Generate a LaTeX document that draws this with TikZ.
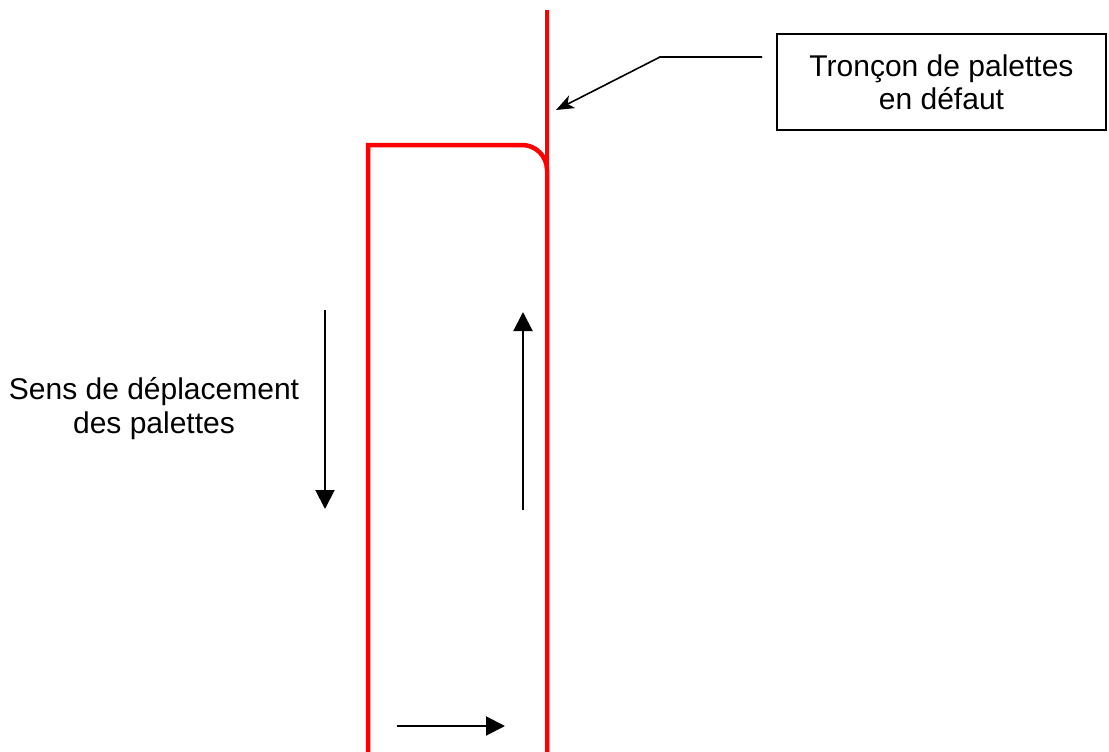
\documentclass[tikz,border=0pt]{standalone}
\usepackage{fontspec}
\setmainfont{Liberation Sans}
\usetikzlibrary{arrows.meta}
\definecolor{lred}{RGB}{255,0,0}
\tikzset{
  track/.style={draw=lred, line width=4.5pt},
  flow/.style={draw=black, line width=2pt, -{Triangle[length=19pt,width=19pt]}},
  leader/.style={draw=black, line width=1.6pt, -{Stealth[length=18pt,width=14pt,inset=5pt]}},
  label/.style={font=\fontsize{30}{34}\selectfont, align=center, inner sep=0pt},
  callout/.style={draw=black, line width=1.6pt, minimum width=329pt, minimum height=96pt, inner sep=0pt, align=center, font=\fontsize{30}{33}\selectfont}
}
\begin{document}
\begin{tikzpicture}[x=1pt,y=-1pt]
\useasboundingbox (0,0) rectangle (1109,752);
% red track
\draw[track] (547,10) -- (547,262);
\draw[track] (368,752) -- (368,145) -- (522,145) arc[start angle=-90,end angle=0,radius=25] -- (547,752);
% callout box
\node[callout] (box) at (941.5,82) {Tronçon de palettes\\en défaut};
\coordinate (knee) at (660,57);
\coordinate (target) at (556,110);
\draw[leader] (box.west |- knee) ++(-14,0) coordinate (lstart) -- (knee) -- (target);
% flow arrows
\coordinate (d1) at (325,310); \coordinate (d2) at (325,509);
\coordinate (u1) at (523,510); \coordinate (u2) at (523,312);
\coordinate (r1) at (397,726); \coordinate (r2) at (505,726);
\draw[flow] (d1) -- (d2);
\draw[flow] (u1) -- (u2);
\draw[flow] (r1) -- (r2);
% label
\node[label] (sens) at (154,409) {Sens de déplacement\\des palettes};
\end{tikzpicture}
\end{document}
